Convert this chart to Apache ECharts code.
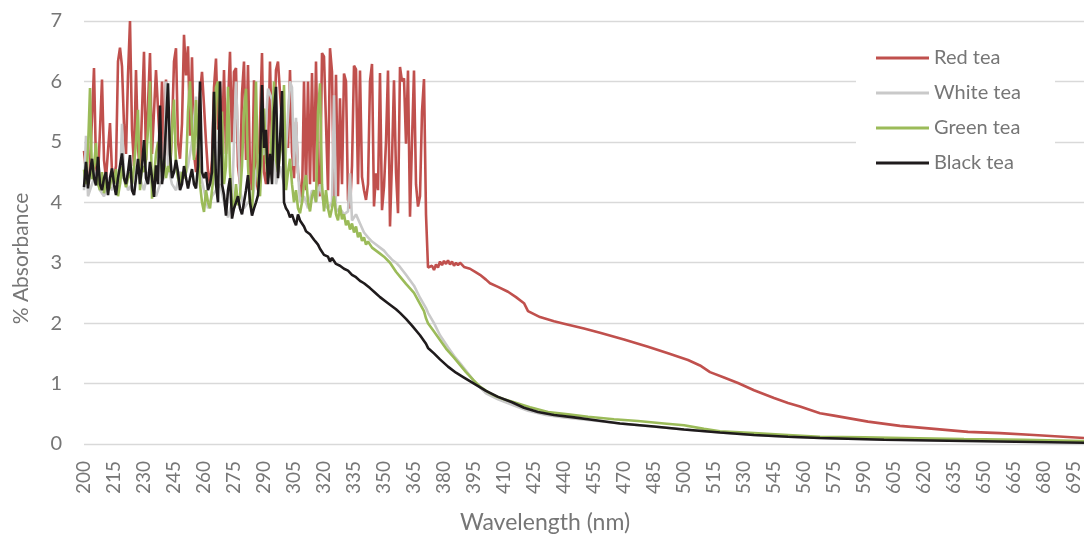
<!DOCTYPE html>
<html>
<head>
<meta charset="utf-8">
<script src="https://cdn.jsdelivr.net/npm/echarts@6/dist/echarts.min.js"></script>
<style>
  html, body { margin: 0; padding: 0; background: #fff; }
  #chart { width: 1084px; height: 537px; }
</style>
</head>
<body>
<div id="chart"></div>
<script>
const FIRST_WL = 200;
const LAST_WL = 700;
const SERIES_NAMES = ["Red tea", "White tea", "Green tea", "Black tea"];

// noisy part, one value per nm starting at 200 nm
const redNoisy = [
  4.85, 4.5, 4.3, 4.6, 5.4, 6.22, 4.6, 4.4, 5.2, 6.03,
  4.7, 4.4, 4.85, 5.31, 4.5, 4.4, 4.6, 6.33, 6.56, 6.25,
  5.28, 4.8, 6.1, 7.0, 5.2, 4.6, 6.19, 4.9, 4.5, 5.5,
  6.49, 4.7, 5.6, 6.47, 4.8, 5.5, 6.19, 6.22, 4.9, 6.0,
  4.7, 6.03, 4.8, 4.5, 5.2, 6.33, 6.55, 5.0, 4.72, 5.3,
  6.77, 6.1, 6.58, 5.1, 6.4, 4.8, 4.5, 4.9, 5.8, 6.16,
  5.6, 5.0, 4.5, 4.3, 4.7, 5.9, 6.38, 5.2, 6.0, 4.9,
  6.19, 4.8, 5.6, 6.49, 5.0, 6.16, 6.22, 4.6, 4.3, 5.8,
  6.33, 4.7, 6.27, 4.5, 4.2, 6.02, 4.4, 4.2, 5.3, 6.47,
  4.5, 4.3, 4.8, 6.33, 4.9, 5.2, 6.19, 6.33, 6.35, 5.3,
  4.7, 5.1, 4.9, 6.19, 4.83, 4.4, 5.33, 4.5, 4.23, 4.0,
  6.0, 4.2, 6.0, 4.3, 6.14, 4.34, 6.33, 4.4, 4.1, 6.47,
  6.41, 6.44, 4.2, 6.55, 6.16, 4.0, 6.11, 4.1, 5.72, 4.3,
  6.13, 6.0, 4.04, 3.9, 4.6, 6.26, 6.2, 4.3, 6.18, 4.42,
  4.2, 4.04, 4.3, 6.0, 6.29, 3.93, 4.48, 4.2, 6.14, 3.87,
  4.26, 5.0, 6.18, 3.6, 4.7, 6.02, 4.5, 3.82, 6.24, 6.0,
  6.05, 4.97, 6.18, 3.76, 5.0, 6.18, 4.3, 3.93, 4.1, 5.5,
  6.04, 3.8, 2.92
];
const redSmooth = [
  [373, 2.9], [374, 2.95], [375, 2.88], [376, 2.97], [377, 2.92], [378, 3.02], [379, 2.96],
  [380, 3.03], [381, 2.98], [382, 3.04], [383, 2.97], [384, 3.02], [385, 2.95], [386, 3.0],
  [387, 2.96], [388, 3.0], [390, 2.93], [393, 2.9], [396, 2.84], [398, 2.8], [401, 2.72],
  [403, 2.66], [407, 2.6], [412, 2.52], [416, 2.43], [420, 2.33], [421, 2.3], [422, 2.2],
  [428, 2.1], [435, 2.03], [440, 1.99], [450, 1.91], [458, 1.84], [470, 1.73], [482, 1.61],
  [492, 1.5], [502, 1.39], [508, 1.3], [513, 1.19], [520, 1.1], [527, 1.01], [535, 0.89],
  [545, 0.76], [552, 0.68], [558, 0.62], [568, 0.51], [575, 0.47], [592, 0.37], [608, 0.3],
  [625, 0.25], [642, 0.2], [658, 0.18], [675, 0.15], [700, 0.1]
];

const whiteTrace = [
  [200, 4.2], [201, 5.1], [202, 4.1], [204, 4.3], [206, 4.5], [208, 4.2], [210, 4.1],
  [212, 4.3], [214, 4.2], [216, 4.4], [218, 4.3], [219, 5.3], [220, 4.5], [222, 4.2],
  [224, 4.3], [226, 4.6], [228, 4.4], [230, 4.2], [232, 4.5], [234, 4.3], [236, 4.1],
  [238, 4.3], [240, 4.4], [241, 6.0], [242, 4.6], [244, 4.3], [246, 4.2], [248, 4.5],
  [250, 4.4], [252, 4.6], [254, 5.0], [256, 5.75], [258, 4.5], [260, 4.2], [262, 3.9],
  [264, 4.1], [266, 4.2], [268, 4.3], [270, 4.0], [272, 3.75], [274, 4.0], [276, 6.0],
  [278, 4.2], [280, 3.9], [282, 4.0], [284, 3.95], [286, 4.5], [288, 4.8], [290, 4.8],
  [292, 5.88], [294, 5.7], [296, 4.3], [298, 4.6], [300, 4.3], [303, 6.0], [304, 5.9],
  [305, 4.6], [306, 5.4], [307, 4.5], [308, 4.0], [310, 4.1], [312, 3.9], [314, 4.2],
  [316, 4.0], [318, 4.3], [320, 3.95], [322, 3.9], [324, 4.0], [325, 5.77], [326, 3.85],
  [328, 3.9], [330, 3.8], [332, 3.85], [333, 4.48], [334, 3.7], [336, 3.8], [338, 3.65],
  [340, 3.5], [342, 3.42], [344, 3.35], [346, 3.3], [348, 3.25], [350, 3.2], [352, 3.12],
  [354, 3.05], [356, 3.0], [358, 2.93], [361, 2.8], [365, 2.62], [368, 2.42], [371, 2.25],
  [372, 2.17], [375, 2.0], [378, 1.8], [382, 1.6], [385, 1.46], [388, 1.34], [392, 1.17],
  [396, 1.0], [401, 0.84], [407, 0.74], [414, 0.65], [422, 0.55], [431, 0.48], [440, 0.44],
  [451, 0.4], [468, 0.34], [484, 0.29], [500, 0.24], [518, 0.19], [535, 0.15], [552, 0.12],
  [575, 0.09], [608, 0.07], [658, 0.05], [700, 0.03]
];

const greenNoisy = [
  4.54, 4.3, 4.87, 5.89, 4.38, 4.6, 4.98, 4.3, 4.2, 4.5,
  4.15, 4.4, 4.2, 4.25, 4.5, 4.3, 4.55, 4.1, 4.3, 4.6,
  4.4, 4.25, 4.4, 4.5, 4.3, 4.6, 5.0, 5.53, 4.2, 4.6,
  4.5, 4.7, 5.2, 6.0, 4.06, 4.4, 4.8, 5.0, 4.9, 4.5,
  4.7, 4.4, 4.6, 4.5, 5.2, 5.7, 4.6, 4.4, 4.3, 4.5,
  4.4, 4.5, 5.5, 6.0, 5.2, 4.7, 5.69, 4.9, 4.3, 4.0,
  3.84, 4.2, 4.0, 3.9, 4.2, 4.5, 5.9, 6.0, 5.0, 5.5,
  4.3, 4.6, 5.91, 4.5, 4.0, 3.9, 4.3, 3.95, 4.1, 4.6,
  5.5, 5.88, 4.6, 4.0, 3.85, 4.6, 6.0, 4.3, 4.1, 4.8,
  5.55, 4.7, 4.4, 4.6, 5.2, 6.0, 4.7, 4.5, 4.8, 5.0,
  5.94, 4.2, 4.5, 4.72, 4.3, 4.0, 4.2, 3.9, 3.82, 4.0,
  4.3, 4.45, 4.0, 3.85, 4.1, 4.2, 4.0, 5.5, 5.97, 4.3,
  3.85, 4.2, 3.9, 3.75, 3.9, 4.1, 3.8, 3.7, 3.95, 3.72,
  3.8, 3.62, 3.7, 3.55, 3.65, 3.5, 3.6, 3.42, 3.5, 3.36,
  3.42, 3.3, 3.35
];
const greenSmooth = [
  [344, 3.25], [346, 3.2], [348, 3.15], [350, 3.1], [353, 3.0], [356, 2.85], [358, 2.77],
  [361, 2.65], [365, 2.5], [368, 2.32], [370, 2.2], [371, 2.08], [372, 2.0], [375, 1.86],
  [378, 1.72], [381, 1.58], [385, 1.43], [388, 1.31], [391, 1.19], [395, 1.05], [398, 0.95],
  [402, 0.86], [406, 0.79], [410, 0.74], [415, 0.69], [423, 0.61], [432, 0.53], [442, 0.49],
  [452, 0.45], [465, 0.41], [477, 0.38], [490, 0.34], [500, 0.31], [510, 0.25], [518, 0.21],
  [535, 0.18], [552, 0.15], [568, 0.12], [590, 0.11], [610, 0.1], [640, 0.08], [670, 0.07],
  [700, 0.05]
];

const blackNoisy = [
  4.25, 4.67, 4.23, 4.5, 4.72, 4.4, 4.28, 4.75, 4.3, 4.2,
  4.4, 4.5, 4.12, 4.4, 4.56, 4.3, 4.12, 4.4, 4.6, 4.81,
  4.4, 4.3, 4.5, 4.78, 4.2, 4.12, 4.4, 4.72, 4.3, 4.6,
  5.03, 4.4, 4.3, 4.67, 4.4, 4.09, 4.61, 4.3, 5.6, 4.3,
  4.6, 4.6, 5.97, 4.8, 4.4, 4.5, 4.7, 4.5, 4.2, 4.3,
  4.6, 4.4, 4.23, 4.4, 4.55, 4.3, 4.23, 4.6, 6.0, 4.5,
  4.4, 4.5, 4.2, 4.3, 4.5, 5.83, 4.3, 4.0, 6.0, 4.3,
  4.12, 3.78, 4.2, 4.4, 3.73, 3.9, 4.0, 4.1, 3.9, 3.8,
  4.0, 4.2, 4.45, 4.0, 3.78, 3.9, 4.0, 4.12, 4.6, 5.94,
  4.9, 5.2, 4.3, 4.8, 4.3, 5.5, 5.91, 4.4, 5.0, 5.84,
  4.0, 3.9, 3.85, 3.75, 3.8, 3.7, 3.62, 3.8, 3.7, 3.65,
  3.6, 3.52, 3.55, 3.47, 3.45, 3.38, 3.34, 3.3, 3.23, 3.2,
  3.13
];
const blackSmooth = [
  [322, 3.1], [323, 3.02], [324, 3.08], [326, 2.98], [328, 2.95], [330, 2.9], [332, 2.87],
  [334, 2.8], [336, 2.76], [338, 2.7], [340, 2.66], [343, 2.58], [346, 2.49], [348, 2.43],
  [352, 2.33], [356, 2.23], [358, 2.17], [361, 2.07], [364, 1.96], [368, 1.8], [371, 1.66],
  [372, 1.59], [375, 1.5], [378, 1.4], [382, 1.28], [386, 1.18], [390, 1.1], [395, 1.0],
  [401, 0.88], [407, 0.78], [414, 0.69], [420, 0.6], [427, 0.53], [435, 0.48], [445, 0.44],
  [452, 0.41], [468, 0.34], [485, 0.29], [500, 0.24], [518, 0.19], [535, 0.15], [552, 0.12],
  [568, 0.1], [600, 0.07], [640, 0.05], [700, 0.02]
];

const SERIES_COLOR = {
  "Red tea": "#C0504D",
  "White tea": "#C9C9C9",
  "Green tea": "#9BBB59",
  "Black tea": "#1F1B1C"
};

const wavelengths = [];
for (let wl = FIRST_WL; wl <= LAST_WL; wl++) wavelengths.push(String(wl));

// turn per-nm arrays and [wl, value] pairs into [categoryIndex, value] points
function buildTrace(noisy, pairs) {
  const points = noisy.map((v, i) => [i, v]);
  pairs.forEach(([wl, v]) => points.push([wl - FIRST_WL, v]));
  return points;
}

const traces = {
  "Red tea": buildTrace(redNoisy, redSmooth),
  "White tea": buildTrace([], whiteTrace),
  "Green tea": buildTrace(greenNoisy, greenSmooth),
  "Black tea": buildTrace(blackNoisy, blackSmooth)
};

const FONT = "Lato, 'Open Sans', sans-serif";
const TEXT_GRAY = "#767676";

const chart = echarts.init(document.getElementById("chart"));

chart.setOption({
  animation: false,
  backgroundColor: "#ffffff",
  grid: { left: 84, right: 0, top: 21, bottom: 93, containLabel: false, outerBoundsMode: "none" },
  legend: {
    orient: "vertical",
    left: 856,
    top: 40,
    padding: [8, 34, 8, 20],
    backgroundColor: "#ffffff",
    icon: "rect",
    itemWidth: 53,
    itemHeight: 3,
    itemGap: 15,
    textStyle: { color: TEXT_GRAY, fontSize: 20, fontFamily: FONT },
    data: SERIES_NAMES
  },
  xAxis: {
    type: "category",
    data: wavelengths,
    boundaryGap: false,
    name: "Wavelength (nm)",
    nameLocation: "middle",
    nameGap: 67,
    // title sits left of the plot centre in the original
    nameTextStyle: { color: TEXT_GRAY, fontSize: 23, fontFamily: FONT, padding: [0, 78, 0, 0] },
    axisLine: { show: false },
    axisTick: { show: false },
    axisLabel: {
      interval: 14,
      rotate: 90,
      margin: 17,
      color: TEXT_GRAY,
      fontSize: 19,
      fontFamily: FONT
    },
    splitLine: { show: false }
  },
  yAxis: {
    type: "value",
    min: 0,
    max: 7,
    interval: 1,
    name: "% Absorbance",
    nameLocation: "middle",
    nameGap: 52,
    nameTextStyle: { color: TEXT_GRAY, fontSize: 21, fontFamily: FONT, padding: [0, 52, 0, 0] },
    axisLine: { show: false },
    axisTick: { show: false },
    axisLabel: { margin: 22, color: TEXT_GRAY, fontSize: 20, fontFamily: FONT },
    splitLine: { lineStyle: { color: "#D9D9D9", width: 1.3 } }
  },
  series: SERIES_NAMES.map(name => ({
    name,
    type: "line",
    data: traces[name],
    symbol: "none",
    showSymbol: false,
    color: SERIES_COLOR[name],
    lineStyle: { color: SERIES_COLOR[name], width: 2.6 },
    z: 2
  }))
});
</script>
</body>
</html>
